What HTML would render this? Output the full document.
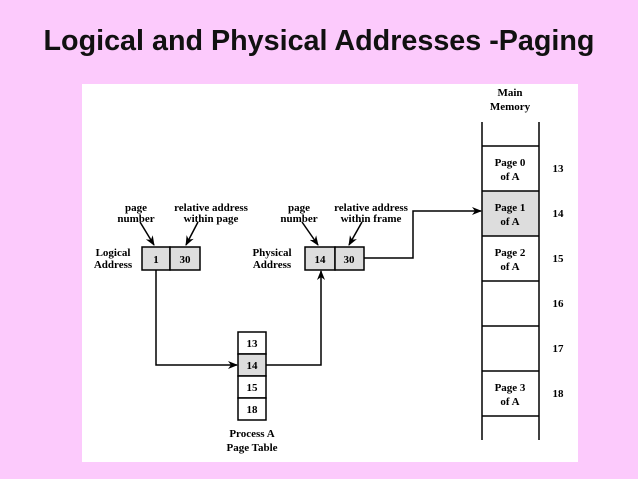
<!DOCTYPE html>
<html><head><style>
body{margin:0;width:638px;height:479px;background:#fccafc;overflow:hidden;position:relative}
h1{position:absolute;left:0;top:25px;width:638px;margin:0;text-align:center;font:bold 29px "Liberation Sans",sans-serif;color:#111;transform:scaleX(.99);letter-spacing:0}
svg{position:absolute;left:0;top:0}
text{font-family:"Liberation Serif",serif;font-weight:bold;font-size:11px;fill:#000}
</style></head><body>
<h1>Logical and Physical Addresses -Paging</h1>
<svg width="638" height="479">
<defs><marker id="a" markerWidth="10" markerHeight="8" refX="9" refY="4" orient="auto" markerUnits="userSpaceOnUse"><path d="M0,0 L10,4 L0,8 L3,4z" fill="#000"/></marker></defs>
<rect x="82" y="84" width="496" height="378" fill="#fff"/>
<g stroke="#000" stroke-width="1.5">
<rect x="142" y="247" width="28" height="23" fill="#ddd"/><rect x="170" y="247" width="30" height="23" fill="#ddd"/>
<rect x="305" y="247" width="30" height="23" fill="#ddd"/><rect x="335" y="247" width="29" height="23" fill="#ddd"/>
<rect x="238" y="332" width="28" height="22" fill="#fff"/><rect x="238" y="354" width="28" height="22" fill="#ddd"/><rect x="238" y="376" width="28" height="22" fill="#fff"/><rect x="238" y="398" width="28" height="22" fill="#fff"/>
<rect x="482" y="191" width="57" height="45" fill="#ddd" stroke="none"/>
<line x1="482" y1="122" x2="482" y2="440"/><line x1="539" y1="122" x2="539" y2="440"/>
<line x1="482" y1="146" x2="539" y2="146"/><line x1="482" y1="191" x2="539" y2="191"/><line x1="482" y1="236" x2="539" y2="236"/><line x1="482" y1="281" x2="539" y2="281"/><line x1="482" y1="326" x2="539" y2="326"/><line x1="482" y1="371" x2="539" y2="371"/><line x1="482" y1="416" x2="539" y2="416"/>
<polyline points="156,270 156,365 237,365" fill="none" marker-end="url(#a)"/>
<polyline points="266,365 321,365 321,271" fill="none" marker-end="url(#a)"/>
<polyline points="364,258 413,258 413,211 481,211" fill="none" marker-end="url(#a)"/>
<line x1="140" y1="222" x2="154" y2="245" marker-end="url(#a)"/>
<line x1="198" y1="222" x2="186" y2="245" marker-end="url(#a)"/>
<line x1="302" y1="222" x2="318" y2="245" marker-end="url(#a)"/>
<line x1="362" y1="222" x2="349" y2="245" marker-end="url(#a)"/>
</g>
<g text-anchor="middle">
<text x="136" y="211">page</text><text x="136" y="222">number</text>
<text x="211" y="211">relative address</text><text x="211" y="222">within page</text>
<text x="299" y="211">page</text><text x="299" y="222">number</text>
<text x="371" y="211">relative address</text><text x="371" y="222">within frame</text>
<text x="113" y="256">Logical</text><text x="113" y="268">Address</text>
<text x="272" y="256">Physical</text><text x="272" y="268">Address</text>
<text x="156" y="263">1</text><text x="185" y="263">30</text><text x="320" y="263">14</text><text x="349" y="263">30</text>
<text x="252" y="347">13</text><text x="252" y="369">14</text><text x="252" y="391">15</text><text x="252" y="413">18</text>
<text x="252" y="437">Process A</text><text x="252" y="451">Page Table</text>
<text x="510" y="96">Main</text><text x="510" y="110">Memory</text>
<text x="510" y="166">Page 0</text><text x="510" y="180">of A</text>
<text x="510" y="211">Page 1</text><text x="510" y="225">of A</text>
<text x="510" y="256">Page 2</text><text x="510" y="270">of A</text>
<text x="510" y="391">Page 3</text><text x="510" y="405">of A</text>
<text x="558" y="172">13</text><text x="558" y="217">14</text><text x="558" y="262">15</text><text x="558" y="307">16</text><text x="558" y="352">17</text><text x="558" y="397">18</text>
</g>
</svg>
</body></html>
